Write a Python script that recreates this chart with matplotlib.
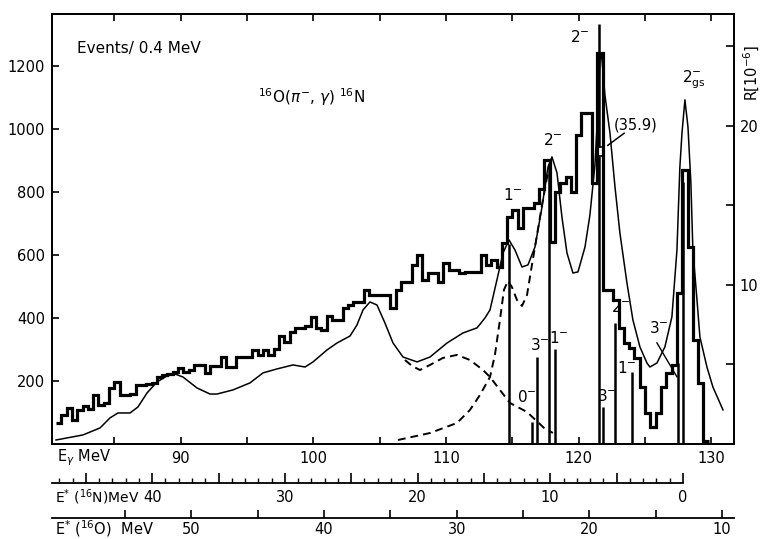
import numpy as np
import matplotlib
matplotlib.use("Agg")
import matplotlib.pyplot as plt

plt.rcParams["font.family"] = "DejaVu Sans"
plt.rcParams["mathtext.fontset"] = "dejavusans"

# measured spectrum, Events / 0.4 MeV
bin_start = 80.6
bin_width = 0.4
counts = [66, 92, 113, 76, 108, 120, 110, 155, 124, 130,
          177, 198, 155, 155, 160, 187, 187, 190, 192, 214,
          218, 222, 228, 240, 228, 235, 250, 250, 225, 249,
          249, 277, 245, 245, 277, 277, 277, 298, 282, 298,
          282, 300, 343, 325, 355, 367, 367, 373, 402, 367,
          362, 406, 394, 394, 431, 441, 452, 452, 489, 473,
          473, 473, 473, 431, 489, 515, 515, 568, 600, 520,
          542, 542, 515, 573, 552, 552, 542, 547, 547, 547,
          600, 568, 584, 563, 637, 722, 743, 685, 748, 748,
          764, 808, 900, 640, 800, 829, 848, 800, 981, 1051,
          1051, 829, 1240, 489, 489, 457, 367, 320, 304, 272,
          182, 98, 55, 98, 182, 225, 250, 480, 870, 625,
          330, 192, 10]

# folded calculation, R [10^-6]
theory_e = [80.6, 82.64, 83.92, 84.67, 85.27, 86.18, 86.78, 87.46, 88.21, 88.97,
            89.57, 90.17, 91.23, 92.21, 92.73, 93.94, 95.22, 96.20, 97.26, 98.46,
            99.37, 99.97, 101.02, 101.78, 102.76, 103.28, 103.74, 104.26, 104.79, 105.39,
            106.0, 106.75, 107.81, 108.79, 110.07, 111.27, 112.33, 112.93, 113.31, 113.83,
            114.29, 114.74, 115.19, 115.72, 116.17, 116.70, 117.23, 117.68, 117.98, 118.36,
            118.73, 119.11, 119.56, 119.94, 120.47, 120.84, 121.22, 121.44, 121.60, 121.67,
            121.75, 121.97, 122.35, 122.73, 123.10, 123.63, 124.08, 124.61, 125.14, 125.36,
            125.89, 126.49, 127.02, 127.40, 127.62, 127.78, 128.0, 128.23, 128.45, 128.60,
            128.91, 129.13, 129.66, 130.11, 130.87]
theory_r = [0.25, 0.57, 1.01, 1.64, 1.95, 1.95, 2.33, 3.21, 3.90, 4.28,
            4.40, 4.21, 3.52, 3.14, 3.14, 3.40, 3.84, 4.47, 4.72, 4.97,
            4.84, 5.16, 5.91, 6.35, 6.79, 7.48, 8.43, 8.93, 8.74, 7.61,
            6.35, 5.47, 5.16, 5.47, 6.35, 6.98, 7.30, 7.92, 8.43, 10.31,
            12.01, 12.83, 12.20, 11.13, 11.26, 12.39, 14.91, 17.42, 18.05, 17.04,
            14.28, 12.01, 10.75, 10.82, 12.39, 14.40, 17.55, 21.0, 24.15, 24.59,
            24.15, 21.95, 19.56, 16.16, 13.27, 10.13, 7.80, 6.10, 5.09, 4.84,
            5.09, 6.10, 7.99, 12.20, 17.42, 19.56, 21.64, 19.94, 16.42, 12.20,
            9.06, 6.73, 4.84, 3.58, 2.14]

# dashed components
bump_e = [106.90, 107.43, 108.03, 108.79, 109.76, 110.82, 111.80, 112.78, 113.31,
          114.81, 116.10, 117.38, 118.05]
bump_r = [5.28, 4.91, 4.65, 4.97, 5.41, 5.60, 5.28, 4.65, 4.21,
          2.58, 2.01, 1.01, 0.69]
rise_e = [106.37, 108.79, 110.82, 111.80, 112.55, 113.31, 113.68, 114.06, 114.36,
          114.66, 114.96, 115.34, 115.72, 116.10, 116.47, 116.85, 117.23, 117.60, 117.90]
rise_r = [0.25, 0.69, 1.32, 2.14, 3.08, 4.21, 5.60, 7.80, 9.69,
          10.25, 9.87, 9.06, 8.68, 9.37, 11.26, 13.14, 15.03, 16.73, 17.86]

# line spectrum
stick_e = [114.75, 116.45, 116.85, 117.75, 118.2, 121.55, 121.85, 122.75, 124.0, 127.45, 127.85]
stick_r = [12.6, 1.4, 5.5, 17.6, 6.0, 35.9, 2.3, 7.6, 4.5, 5.1, 16.5]

# state labels (E_gamma, counts)
label_text = ["1$^{-}$", "2$^{-}$", "2$^{-}$", r"2$^{-}_{\rm gs}$", "3$^{-}$", "1$^{-}$",
              "0$^{-}$", "3$^{-}$", "2$^{-}$", "1$^{-}$", "3$^{-}$"]
label_e = [115.04, 118.05, 120.09, 128.68, 117.07, 118.5, 116.1, 122.12, 123.18, 123.63, 126.0]
label_c = [790, 965, 1292, 1156, 314, 337, 149, 152, 435, 241, 368]

xmin, xmax = 80.3, 131.7
n_zero = 127.85   # E_gamma where E*(16N) = 0
o_zero = 140.8    # E_gamma where E*(16O) = 0

fig = plt.figure(figsize=(7.63, 5.39), dpi=100)
ax = fig.add_axes([0.0682, 0.1763, 0.8938, 0.7978])
ax.set_xlim(xmin, xmax)
ax.set_ylim(0, 1365)
ax2 = ax.twinx()
ax2.set_ylim(0, 27.04)

edges = bin_start + bin_width * np.arange(len(counts) + 1)
ax.stairs(counts, edges, baseline=None, color="black", lw=2.3)

ax2.plot(theory_e, theory_r, color="black", lw=1.1)
ax2.plot(bump_e, bump_r, color="black", lw=1.4, dashes=(4, 2.6))
ax2.plot(rise_e, rise_r, color="black", lw=1.4, dashes=(4, 2.6))

rtop = ax2.get_ylim()[1]
for e, r in zip(stick_e, stick_r):
    if r > rtop:
        # off-scale line, drawn with a break
        ax2.vlines(e, 0, 18.1, color="black", lw=1.8)
        ax2.vlines(e, 18.7, 26.4, color="black", lw=1.8)
        ax2.plot([e - 0.2, e + 0.2], [18.1, 18.1], color="black", lw=1.2)
        ax2.plot([e - 0.2, e + 0.2], [18.7, 18.7], color="black", lw=1.2)
    else:
        ax2.vlines(e, 0, r, color="black", lw=1.8)

for t, e, c in zip(label_text, label_e, label_c):
    ax.text(e, c, t, ha="center", va="center", fontsize=11)

ax.text(124.25, 1013, "(35.9)", ha="center", va="center", fontsize=10.5)
ax.annotate("", xy=(122.0, 942), xytext=(123.6, 992),
            arrowprops=dict(arrowstyle="-", color="black", lw=1.1))
ax.plot([125.89, 127.4], [321, 213], color="black", lw=1.0)

ax.text(82.2, 1255, "Events/ 0.4 MeV", fontsize=11, va="center")
ax.text(95.8, 1100, r"$^{16}$O($\pi^{-}$, $\gamma$) $^{16}$N", fontsize=11, va="center")

for a in (ax, ax2):
    for s in a.spines.values():
        s.set_linewidth(1.3)

ax.set_xticks([90, 100, 110, 120, 130])
ax.set_xticks([85, 95, 105, 115, 125], minor=True)
ax.tick_params(axis="x", which="both", direction="in", top=True, length=5, width=1.2,
               labelsize=10.5, pad=5)
ax.set_yticks([200, 400, 600, 800, 1000, 1200])
ax.tick_params(axis="y", direction="in", length=5, width=1.2, labelsize=10.5, pad=5)
ax2.set_yticks([5, 10, 15, 20, 25])
ax2.set_yticklabels(["", "10", "", "20", ""])
ax2.tick_params(axis="y", direction="in", length=6, width=1.2, labelsize=10.5, pad=4)

fig.text(57 / 763, 1 - 458 / 539, r"E$_\gamma$ MeV", fontsize=10.5, va="center")
fig.text(752 / 763, 1 - 73 / 539, r"R[10$^{-6}$]", fontsize=10.5, rotation=90,
         ha="center", va="center")

# excitation energy scales below
axn = fig.add_axes([0.0682, 0.1039, 0.8938, 0.0001])
axo = fig.add_axes([0.0682, 0.0390, 0.8938, 0.0001])
for a in (axn, axo):
    a.set_xlim(xmin, xmax)
    a.set_yticks([])
    a.patch.set_visible(False)
    for side in ("left", "right", "top"):
        a.spines[side].set_visible(False)
    a.spines["bottom"].set_linewidth(1.3)

axn.spines["bottom"].set_bounds(xmin, n_zero)
n_major = [0, 5, 10, 15, 20, 25, 30, 35, 40, 45]
axn.set_xticks([n_zero - v for v in n_major])
axn.set_xticklabels([str(v) if v % 10 == 0 else "" for v in n_major])
axn.set_xticks([n_zero - v for v in range(0, 48)], minor=True)
axn.tick_params(axis="x", which="major", direction="in", length=7, width=1.2,
                labelsize=10.5, pad=5)
axn.tick_params(axis="x", which="minor", direction="in", length=3.5, width=1.0)
fig.text(55 / 763, 1 - 497 / 539, r"E$^{*}$ ($^{16}$N)MeV", fontsize=10, va="center")

o_major = [10, 15, 20, 25, 30, 35, 40, 45, 50, 55]
axo.set_xticks([o_zero - v for v in o_major])
axo.set_xticklabels([str(v) if v % 10 == 0 else "" for v in o_major])
axo.tick_params(axis="x", direction="in", length=6, width=1.2, labelsize=10.5, pad=3)
fig.text(55 / 763, 1 - 529 / 539, r"E$^{*}$ ($^{16}$O)  MeV", fontsize=10.5, va="center")

fig.savefig("out.png", dpi=100)
